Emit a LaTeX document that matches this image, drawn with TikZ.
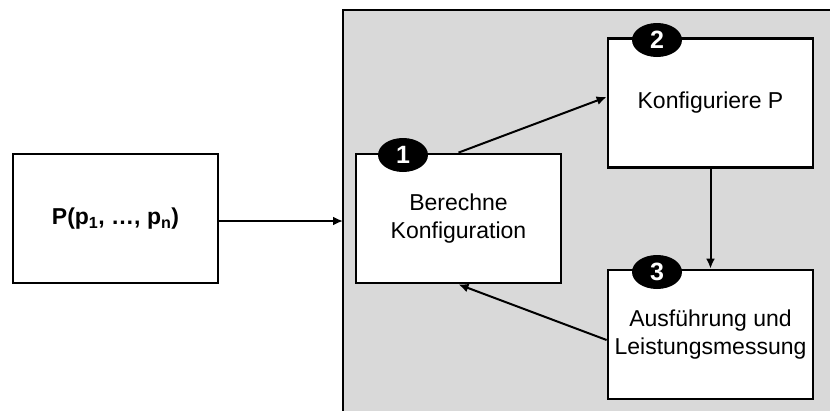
\documentclass[tikz,border=0pt]{standalone}
\usepackage{fontspec}
\setmainfont{Liberation Sans}
\usetikzlibrary{arrows.meta,shapes.geometric}
\definecolor{panelgray}{HTML}{D9D9D9}
\begin{document}
\begin{tikzpicture}[x=1pt,y=-1pt,
  stepbox/.style={draw=black, line width=2.8pt, fill=white, minimum width=205pt,
    minimum height=129pt, align=center, inner sep=0pt,
    font=\fontsize{23}{28}\selectfont},
  badge/.style={ellipse, fill=black, minimum width=50pt, minimum height=34pt,
    inner sep=0pt, text=white, font=\fontsize{25}{25}\selectfont\bfseries},
  flow/.style={line width=2pt, -{Latex[length=10pt,width=9pt]}}]
  \useasboundingbox (0,0) rectangle (830,410);
  % process panel
  \fill[panelgray] (343,10) rectangle (840,420);
  \draw[line width=2pt] (843,10) -- (343,10) -- (343,420);
  \coordinate (pin) at (343,221);
  % boxes
  \node[stepbox] (in) at (115.5,218.5) {\textbf{P(p\textsubscript{1}, …, p\textsubscript{n})}};
  \node[stepbox] (b1) at (458.5,218.5) {Berechne\\Konfiguration};
  \node[stepbox] (b2) at (710.5,103) {Konfiguriere P};
  \node[stepbox] (b3) at (710.5,334.5) {Ausführung und\\Leistungsmessung};
  % step numbers
  \node[badge] (n1) at (403,155) {1};
  \node[badge] (n2) at (657,40) {2};
  \node[badge] (n3) at (657,272) {3};
  % connectors
  \draw[flow] (in.east |- pin) -- (pin);
  \draw[flow] (b1.north) -- ([yshift=6pt]b2.west);
  \draw[flow] (b2.south) -- (b3.north);
  \draw[flow] ([yshift=-5.5pt]b3.west) -- (b1.south);
\end{tikzpicture}
\end{document}
